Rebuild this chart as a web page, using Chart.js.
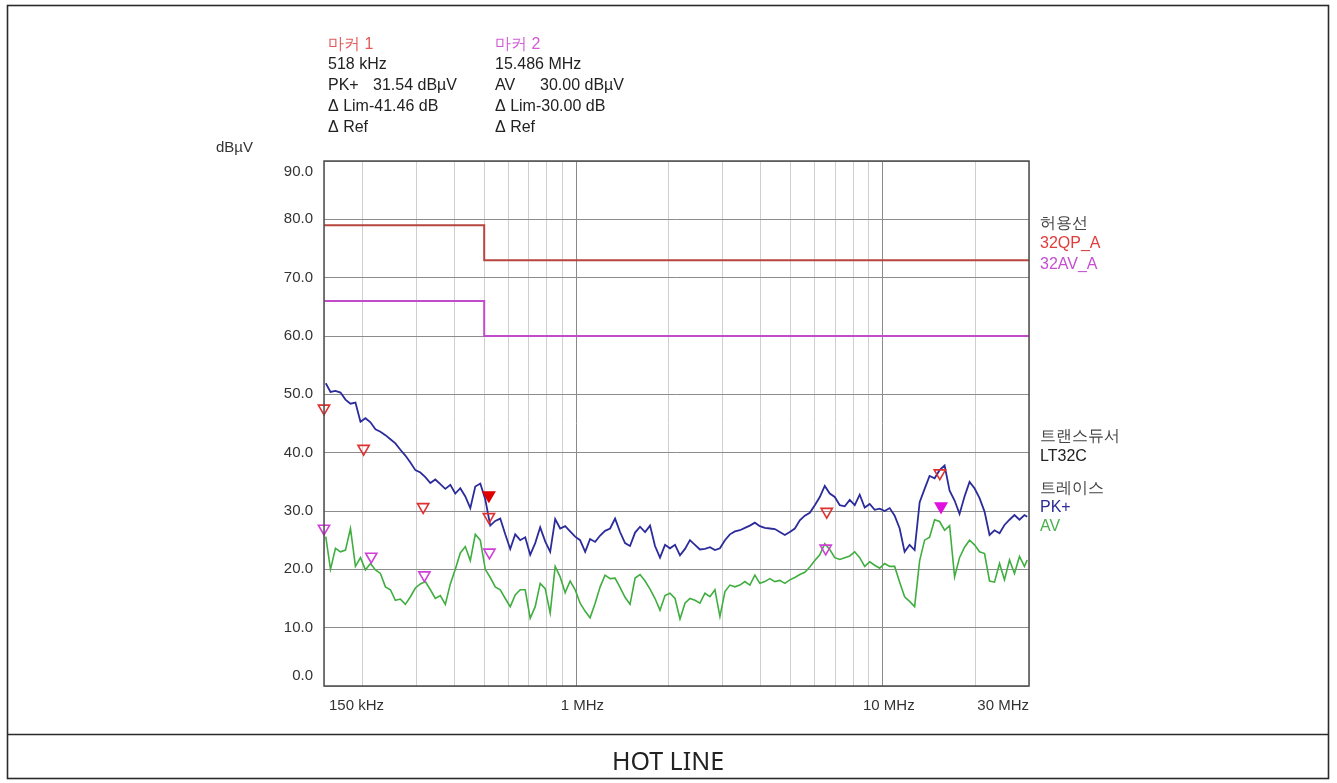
<!DOCTYPE html>
<html>
<head>
<meta charset="utf-8">
<title>HOT LINE</title>
<script src="https://cdn.jsdelivr.net/npm/chart.js@4.4.0/dist/chart.umd.min.js"></script>
<style>
  html, body { margin: 0; padding: 0; background: #fff; }
  canvas { display: block; }
</style>
</head>
<body>
<canvas id="emi" width="1337" height="783"></canvas>
<script>
// scan frequencies (MHz)
const freqMHz = [
  0.152, 0.1575, 0.1635, 0.1698, 0.1763, 0.183, 0.19, 0.1973, 0.2048, 0.2127,
  0.2208, 0.2292, 0.238, 0.2471, 0.2565, 0.2663, 0.2765, 0.2871, 0.2981, 0.3095,
  0.3213, 0.3336, 0.3463, 0.3596, 0.3733, 0.3876, 0.4024, 0.4178, 0.4338, 0.4504,
  0.4676, 0.4855, 0.504, 0.5233, 0.5433, 0.5641, 0.5857, 0.6081, 0.6313, 0.6555,
  0.6805, 0.7066, 0.7336, 0.7616, 0.7907, 0.821, 0.8524, 0.885, 0.9188, 0.9539,
  0.9904, 1.028, 1.068, 1.108, 1.151, 1.195, 1.24, 1.288, 1.337, 1.388,
  1.441, 1.496, 1.554, 1.613, 1.675, 1.739, 1.805, 1.874, 1.946, 2.02,
  2.098, 2.178, 2.261, 2.347, 2.437, 2.53, 2.627, 2.728, 2.832, 2.94,
  3.053, 3.169, 3.29, 3.416, 3.547, 3.682, 3.823, 3.969, 4.121, 4.279,
  4.442, 4.612, 4.789, 4.972, 5.162, 5.359, 5.564, 5.777, 5.998, 6.227,
  6.465, 6.712, 6.969, 7.235, 7.512, 7.799, 8.097, 8.407, 8.728, 9.062,
  9.408, 9.768, 10.14, 10.53, 10.93, 11.35, 11.78, 12.23, 12.7, 13.19,
  13.69, 14.21, 14.76, 15.32, 15.91, 16.52, 17.15, 17.8, 18.48, 19.19,
  19.92, 20.69, 21.48, 22.3, 23.15, 24.04, 24.95, 25.91, 26.9, 27.93,
  28.99, 29.6
];

// PK+ trace (dBuV)
const pkLevel = [
  51.9, 50.4, 50.6, 50.3, 49.1, 48.4, 48.6, 45.3, 45.9, 45.2,
  44.0, 43.6, 43.0, 42.3, 41.6, 40.5, 39.5, 38.3, 37.0, 36.6,
  35.8, 34.8, 35.4, 34.6, 33.8, 34.5, 33.0, 33.9, 32.5, 30.5,
  34.2, 34.7, 32.0, 27.5, 28.3, 28.7, 26.0, 23.5, 26.0, 25.0,
  25.5, 22.5, 24.5, 27.2, 24.8, 23.0, 28.6, 27.0, 27.4, 26.5,
  25.6, 25.0, 23.0, 25.2, 24.7, 25.8, 26.6, 27.0, 28.7, 26.4,
  24.5, 24.0, 26.3, 27.3, 26.4, 27.5, 24.0, 22.0, 24.2, 23.6,
  24.2, 22.4, 23.5, 25.0, 24.2, 23.4, 23.5, 23.8, 23.3, 23.6,
  25.0, 26.0, 26.5, 26.7, 27.1, 27.5, 28.0, 27.4, 27.1, 27.0,
  26.9, 26.4, 25.9, 26.4, 27.0, 28.4, 29.2, 29.7, 31.0, 32.4,
  34.3, 33.0, 32.4, 31.0, 30.8, 31.9, 31.0, 32.8, 30.6, 31.2,
  30.2, 30.4, 30.0, 30.5, 29.2, 27.0, 23.0, 24.2, 23.3, 31.5,
  33.8, 36.0, 35.6, 37.0, 37.8, 33.5, 31.8, 29.5, 32.5, 35.0,
  33.9, 32.2, 29.9, 25.9, 26.7, 26.2, 27.6, 28.5, 29.3, 28.5,
  29.3, 29.0
];

// AV trace (dBuV)
const avLevel = [
  25.6, 20.0, 23.6, 23.0, 23.3, 27.0, 20.5, 22.0, 19.9, 21.0,
  19.9, 19.3, 17.0, 16.5, 14.7, 14.9, 14.0, 15.3, 16.8, 17.5,
  17.9, 16.5, 15.0, 15.5, 14.0, 17.5, 20.0, 22.8, 23.9, 21.5,
  26.0, 25.0, 20.0, 18.6, 17.0, 16.5, 15.0, 13.6, 15.6, 16.5,
  16.5, 11.6, 13.6, 17.6, 16.7, 12.5, 20.5, 18.7, 16.0, 18.0,
  16.5, 14.2, 12.8, 11.7, 14.2, 17.0, 19.0, 18.4, 18.5, 16.9,
  15.2, 14.0, 18.5, 19.1, 18.0, 16.6, 15.0, 13.0, 15.5, 15.9,
  15.0, 11.5, 14.2, 15.0, 14.7, 14.2, 15.9, 15.3, 16.5, 11.9,
  16.2, 17.3, 17.0, 17.3, 17.9, 17.3, 19.0, 17.6, 17.9, 18.4,
  17.9, 18.1, 17.6, 18.2, 18.6, 19.1, 19.5, 20.4, 21.5, 22.5,
  24.4, 23.4, 22.0, 21.7, 22.0, 22.3, 23.0, 22.0, 20.5, 21.3,
  20.7, 20.2, 21.0, 20.5, 20.5, 17.8, 15.3, 14.5, 13.6, 21.5,
  25.0, 25.5, 28.5, 28.2, 26.7, 27.5, 18.7, 22.0, 23.8, 25.0,
  24.2, 23.0, 22.7, 18.0, 17.8, 21.0, 18.2, 21.6, 19.3, 22.2,
  20.5, 21.6
];

// limit lines
const qpLimitFreq = [0.15, 0.5, 0.5, 30];
const qpLimit = [79, 79, 73, 73];
const avLimitFreq = [0.15, 0.5, 0.5, 30];
const avLimit = [66, 66, 60, 60];

// peak search markers
const pkMarkFreq = [0.15, 0.202, 0.316, 0.518, 6.56, 15.35];
const pkMarkLevel = [47.6, 40.7, 30.7, 29.0, 29.9, 36.5];
const avMarkFreq = [0.15, 0.214, 0.319, 0.52, 6.51];
const avMarkLevel = [27.0, 22.2, 19.0, 22.9, 23.6];
const marker1Freq = [0.518];
const marker1Level = [32.7];
const marker2Freq = [15.486];
const marker2Level = [30.8];

// axes
const gridFreq = [0.15, 0.2, 0.3, 0.4, 0.5, 0.6, 0.7, 0.8, 0.9,
  1, 2, 3, 4, 5, 6, 7, 8, 9, 10, 20, 30];
const xLabelFreq = [0.15, 1, 10, 30];
const xLabelText = ['150 kHz', '1 MHz', '10 MHz', '30 MHz'];
const yTicks = [0, 10, 20, 30, 40, 50, 60, 70, 80, 90];

const pts = (xs, ys) => xs.map((f, i) => ({ x: f, y: ys[i] }));

const FONT = '"Liberation Sans", Arial, sans-serif';

const paperPlugin = {
  id: 'paper',
  beforeDraw(chart) {
    const c = chart.ctx;
    c.save();
    c.fillStyle = '#fff';
    c.fillRect(0, 0, chart.width, chart.height);
    c.restore();
  },
  afterDraw(chart) {
    const c = chart.ctx;
    const a = chart.chartArea;
    const xs = chart.scales.x;
    const ys = chart.scales.y;
    c.save();

    // plot frame
    c.strokeStyle = '#4d4d4d';
    c.lineWidth = 1.5;
    c.strokeRect(a.left, a.top, a.right - a.left, a.bottom - a.top);

    // page box + title cell
    c.strokeStyle = '#2b2b2b';
    c.lineWidth = 1.6;
    c.strokeRect(7.5, 5.5, 1321, 773);
    c.beginPath();
    c.moveTo(7.5, 734.5);
    c.lineTo(1328.5, 734.5);
    c.stroke();

    c.textBaseline = 'middle';

    // y tick labels
    c.font = '15px ' + FONT;
    c.fillStyle = '#333';
    c.textAlign = 'right';
    yTicks.forEach(v => {
      let py = ys.getPixelForValue(v);
      if (v === 90) py += 11;
      if (v === 0) py -= 10;
      c.fillText(v.toFixed(1), 313, py);
    });
    c.textAlign = 'left';
    c.fillText('dBµV', 216, 148);

    // x tick labels
    xLabelFreq.forEach((f, i) => {
      const px = xs.getPixelForValue(f);
      if (i === 0) { c.textAlign = 'left'; c.fillText(xLabelText[i], px + 5, 706); }
      else if (i === xLabelFreq.length - 1) { c.textAlign = 'right'; c.fillText(xLabelText[i], px, 706); }
      else { c.textAlign = 'center'; c.fillText(xLabelText[i], px + 6, 706); }
    });

    // marker readouts
    c.textAlign = 'left';
    c.font = '16px ' + FONT;
    const block = (x0, head, headColor, lines) => {
      c.fillStyle = headColor;
      c.fillText(head, x0, 45);
      c.fillStyle = '#222';
      lines.forEach((ln, i) => {
        const py = 65 + i * 21;
        c.fillText(ln[0], x0, py);
        if (ln[1]) c.fillText(ln[1], x0 + 45, py);
      });
    };
    block(328, '마커 1', '#e05a5a', [['518 kHz'], ['PK+', '31.54 dBµV'], ['Δ Lim-41.46 dB'], ['Δ Ref']]);
    block(495, '마커 2', '#d05cd6', [['15.486 MHz'], ['AV', '30.00 dBµV'], ['Δ Lim-30.00 dB'], ['Δ Ref']]);

    // right-hand legend text
    c.font = '16px ' + FONT;
    const side = [
      ['허용선', '#444', 224],
      ['32QP_A', '#e03c3c', 244],
      ['32AV_A', '#c44fd0', 265],
      ['트랜스듀서', '#444', 437],
      ['LT32C', '#222', 457],
      ['트레이스', '#444', 489],
      ['PK+', '#2a2a98', 508],
      ['AV', '#4caf50', 527]
    ];
    side.forEach(s => { c.fillStyle = s[1]; c.fillText(s[0], 1040, s[2]); });

    // footer title
    c.font = '25px "Noto Sans", sans-serif';
    c.fillStyle = '#222';
    c.textAlign = 'center';
    c.fillText('HOT LINE', 668, 763);

    c.restore();
  }
};

const tri = (color, fill) => ({
  showLine: false,
  pointStyle: 'triangle',
  rotation: 180,
  pointRadius: 6.5,
  pointBorderWidth: 1.6,
  pointBorderColor: color,
  pointBackgroundColor: fill,
  clip: false,
  order: 0
});

new Chart(document.getElementById('emi'), {
  type: 'line',
  data: {
    datasets: [
      Object.assign({ label: 'marker 1', data: pts(marker1Freq, marker1Level) }, tri('#e00000', '#e00000')),
      Object.assign({ label: 'marker 2', data: pts(marker2Freq, marker2Level) }, tri('#e010e0', '#e010e0')),
      Object.assign({ label: 'PK marks', data: pts(pkMarkFreq, pkMarkLevel) }, tri('#e03030', 'rgba(255,255,255,0)')),
      Object.assign({ label: 'AV marks', data: pts(avMarkFreq, avMarkLevel) }, tri('#d040d8', 'rgba(255,255,255,0)')),
      {
        label: 'PK+', data: pts(freqMHz, pkLevel),
        borderColor: '#2b2b9c', borderWidth: 1.8, pointRadius: 0, tension: 0, order: 1
      },
      {
        label: 'AV', data: pts(freqMHz, avLevel),
        borderColor: '#3fae3f', borderWidth: 1.6, pointRadius: 0, tension: 0, order: 1
      },
      {
        label: '32QP_A', data: pts(qpLimitFreq, qpLimit),
        borderColor: '#b8463e', borderWidth: 2, pointRadius: 0, tension: 0, order: 2
      },
      {
        label: '32AV_A', data: pts(avLimitFreq, avLimit),
        borderColor: '#c04ccc', borderWidth: 2, pointRadius: 0, tension: 0, order: 2
      }
    ]
  },
  options: {
    responsive: false,
    animation: false,
    events: [],
    layout: { padding: { left: 324, top: 161, right: 308, bottom: 97 } },
    plugins: {
      legend: { display: false },
      tooltip: { enabled: false },
      title: { display: false }
    },
    scales: {
      x: {
        type: 'logarithmic',
        min: 0.15,
        max: 30,
        border: { display: false },
        ticks: { display: false },
        grid: {
          drawTicks: false,
          tickLength: 0,
          lineWidth: 1,
          color: ctx => (ctx.tick && (ctx.tick.value === 1 || ctx.tick.value === 10)) ? '#8a8a8a' : '#cfcfcf'
        },
        afterBuildTicks: s => { s.ticks = gridFreq.map(v => ({ value: v })); },
        afterFit: s => { s.height = 0; }
      },
      y: {
        type: 'linear',
        min: 0,
        max: 90,
        border: { display: false },
        ticks: { display: false, stepSize: 10 },
        grid: { drawTicks: false, tickLength: 0, lineWidth: 1, color: '#8c8c8c' },
        afterFit: s => { s.width = 0; }
      }
    }
  },
  plugins: [paperPlugin]
});
</script>
</body>
</html>
